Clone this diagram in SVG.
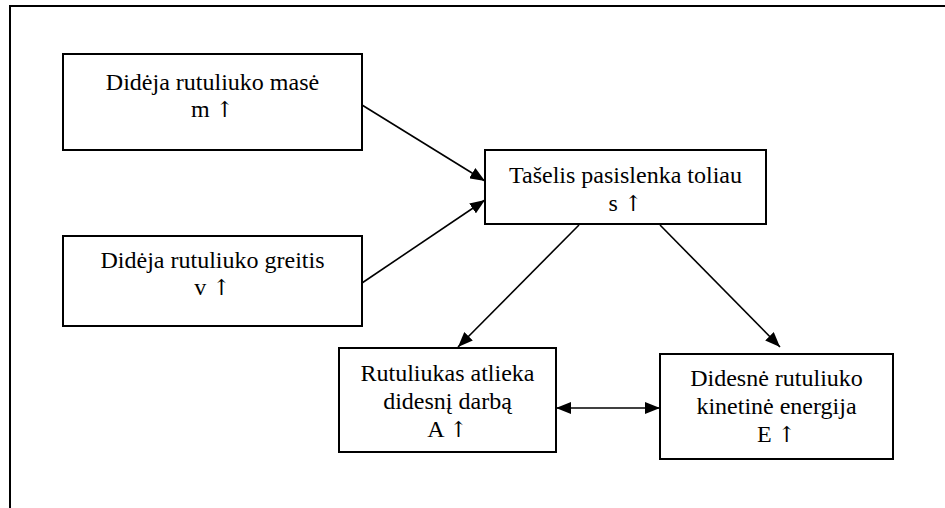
<svg xmlns="http://www.w3.org/2000/svg" width="945" height="508" viewBox="0 0 945 508">
<defs>
<marker id="ah" markerUnits="userSpaceOnUse" markerWidth="15" markerHeight="12" refX="15" refY="6" orient="auto-start-reverse">
<path d="M0,0 L15,6 L0,12 z" fill="#000"/>
</marker>
<style>
.box{fill:#fff;stroke:#000;stroke-width:2}
.t{font-family:"Liberation Serif","Times New Roman",serif;font-size:24px;fill:#000;text-anchor:middle}
.ar{font-family:"DejaVu Serif","DejaVu Sans",serif;font-size:22px;fill:#000;font-variant-emoji:text}
.c{stroke:#000;stroke-width:1.6;fill:none}
</style>
</defs>
<rect width="945" height="508" fill="#fff"/>
<path d="M10,508 V6 H945" fill="none" stroke="#000" stroke-width="2"/>
<g id="connectors">
<line class="c" x1="362" y1="105" x2="485" y2="181" marker-end="url(#ah)"/>
<line class="c" x1="362" y1="283" x2="485" y2="200" marker-end="url(#ah)"/>
<line class="c" x1="579" y1="225" x2="458" y2="347" marker-end="url(#ah)"/>
<line class="c" x1="660" y1="225" x2="780" y2="347" marker-end="url(#ah)"/>
<line class="c" x1="556" y1="408" x2="660" y2="408" marker-start="url(#ah)" marker-end="url(#ah)"/>
</g>
<g id="n-mass">
<rect class="box" x="63" y="54" width="299" height="96"/>
<text class="t" x="212.5" y="90">Didėja rutuliuko masė</text>
<text class="t" x="212.5" y="117">m <tspan class="ar">↑</tspan></text>
</g>
<g id="n-speed">
<rect class="box" x="63" y="236" width="299" height="90"/>
<text class="t" x="212.5" y="268">Didėja rutuliuko greitis</text>
<text class="t" x="212.5" y="295">v <tspan class="ar">↑</tspan></text>
</g>
<g id="n-shift">
<rect class="box" x="485" y="150" width="281" height="74"/>
<text class="t" x="625.5" y="183">Tašelis pasislenka toliau</text>
<text class="t" x="625.5" y="211">s <tspan class="ar">↑</tspan></text>
</g>
<g id="n-work">
<rect class="box" x="339" y="348" width="217" height="104"/>
<text class="t" x="447.5" y="381">Rutuliukas atlieka</text>
<text class="t" x="447.5" y="409">didesnį darbą</text>
<text class="t" x="447.5" y="437">A <tspan class="ar">↑</tspan></text>
</g>
<g id="n-energy">
<rect class="box" x="660" y="354" width="233" height="105"/>
<text class="t" x="776.5" y="386">Didesnė rutuliuko</text>
<text class="t" x="776.5" y="414">kinetinė energija</text>
<text class="t" x="776.5" y="442">E <tspan class="ar">↑</tspan></text>
</g>
</svg>
